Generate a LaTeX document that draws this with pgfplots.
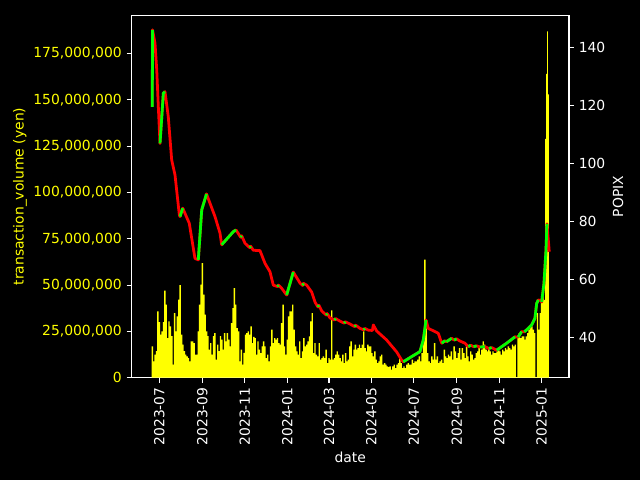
\documentclass[border=0pt]{standalone}
\usepackage{pgfplots}
\pgfplotsset{compat=1.18}
\usepackage{pgfplotstable}
\usepackage{fontspec}
\setmainfont{DejaVu Sans}
\definecolor{lime}{RGB}{0,255,0}
\definecolor{pyred}{RGB}{255,0,0}
\definecolor{pyyellow}{RGB}{255,255,0}

% transaction volume in millions of yen; s = start day of bar (days since 2023-07-01)
\pgfplotstableread{
s v
-11 16.9
-9 8.8
-7 12.4
-5 14.3
-3 35.8
-1 30.0
1 23.2
3 25.0
5 30.0
7 47.0
9 39.4
11 21.4
13 30.4
15 27.7
17 22.4
19 7.0
21 34.9
23 25.0
25 33.1
27 42.1
29 50.0
31 23.2
33 17.8
35 14.3
37 12.4
39 11.5
41 10.6
43 8.8
45 19.6
47 19.6
49 18.7
51 12.4
53 12.4
55 25.0
57 39.4
59 50.2
61 61.9
63 44.8
65 34.0
67 25.0
69 22.4
71 15.1
73 18.7
75 12.4
77 22.4
79 24.1
81 9.7
83 17.8
85 14.3
87 22.4
89 20.5
91 15.1
93 24.1
95 19.6
97 24.1
99 20.5
101 16.9
103 29.5
105 37.6
107 48.4
109 39.4
111 26.8
113 25.0
115 8.8
117 15.1
119 7.0
121 13.4
123 23.2
125 24.1
127 25.0
129 23.2
131 27.7
133 18.7
135 22.0
137 21.4
139 12.4
141 19.6
143 15.1
145 13.3
147 16.9
149 19.6
151 16.9
153 10.6
155 12.4
157 8.8
159 16.9
161 25.9
163 18.7
165 21.4
167 20.5
169 21.4
171 18.7
173 17.8
175 29.5
177 39.4
179 16.9
181 12.4
183 20.5
185 33.1
187 35.8
189 35.8
191 39.4
193 25.9
195 16.9
197 14.2
199 12.4
201 19.6
203 10.6
205 14.2
207 21.4
209 16.9
211 17.8
213 19.6
215 22.3
217 30.4
219 34.9
221 13.3
223 18.7
225 12.4
227 11.5
229 18.7
231 9.7
233 10.6
235 11.5
237 10.6
239 15.1
241 7.9
243 10.6
245 9.7
247 36.4
249 9.7
251 10.6
253 12.4
255 14.2
257 12.4
259 10.6
261 8.8
263 12.4
265 7.9
267 13.3
269 8.8
271 9.7
273 16.9
275 19.6
277 11.5
279 15.1
281 17.8
283 15.1
285 16.0
287 17.8
289 16.0
291 17.8
293 25.0
295 16.0
297 14.2
299 17.8
301 16.9
303 16.9
305 13.3
307 11.5
309 14.2
311 9.7
313 7.9
315 8.8
317 11.5
319 12.4
321 7.0
323 7.9
325 7.0
327 6.1
329 5.7
331 6.1
333 4.3
335 6.1
337 7.0
339 5.2
341 7.0
343 7.9
345 10.6
347 7.9
349 5.2
351 6.1
353 5.2
355 7.0
357 7.9
359 7.0
361 7.0
363 9.7
365 7.9
367 8.8
369 8.8
371 9.7
373 11.5
375 8.8
377 13.3
379 22.0
381 63.7
383 30.0
385 13.3
387 8.8
389 7.9
391 11.5
393 9.7
395 18.7
397 9.7
399 11.5
401 7.9
403 8.8
405 9.7
407 7.9
409 15.1
411 11.5
413 10.6
415 12.4
417 11.5
419 14.2
421 9.7
423 16.9
425 14.2
427 10.6
429 13.3
431 16.0
433 9.7
435 16.0
437 13.3
439 10.6
441 16.9
443 11.5
445 8.8
447 14.2
449 12.4
451 9.7
453 10.6
455 13.3
457 14.2
459 16.0
461 12.4
463 15.1
465 19.6
467 17.8
469 15.1
471 14.2
473 16.0
475 14.2
477 12.4
479 14.2
481 13.3
483 13.3
485 14.2
487 15.1
489 14.2
491 12.4
493 15.1
495 14.2
497 16.0
499 15.1
501 16.9
503 16.0
505 15.1
507 17.8
509 16.9
511 17.8
513 0.3
515 21.4
517 24.1
519 21.4
521 22.3
523 22.3
525 20.5
527 22.3
529 24.1
531 25.9
533 27.7
535 27.7
537 25.9
539 24.1
541 0.3
543 34.9
545 25.9
547 34.9
549 42.1
551 47.5
553 42.0
555 129.0
556.4 164.0
557.8 187.0
559 153.0
560.5 0
}\vol

% POPIX, full series (day, value)
\pgfplotstableread{
d p
-10.1 119.5
-9.8 146.0
-6.2 141.4
-3.7 132.2
-1.4 119.5
1.0 106.9
5.8 124.2
8.2 124.7
12.9 116.1
17.8 101.2
22.6 96.0
28.8 82.3
29.8 81.7
33.7 84.6
43.1 79.4
51.3 67.3
56.1 66.8
61.0 84.0
67.9 89.5
80.1 81.7
87.3 76.0
89.7 72.0
106.4 76.5
110.3 77.1
117 74.6
118.5 75.1
123.3 72.5
130 71.0
131.5 71.5
135.2 70.1
144.8 70.0
152.0 65.6
159.2 62.7
164.0 58.1
170 57.6
171.5 58.1
176.0 57.0
183.2 54.7
192.7 62.6
202.4 58.8
206 58.0
207.5 58.7
212.0 58.1
219.2 55.7
223.9 52.3
228 50.6
229.5 51.2
233.6 49.2
240 47.8
241.5 48.3
245.5 46.8
252 46.1
253.5 46.6
259.9 45.7
266 45.0
267.5 45.5
274.3 44.7
281 43.8
282.5 44.3
288.7 43.2
294 42.7
295.5 43.2
300.6 42.6
306.5 42.5
307.8 44.4
312.7 42.3
327.0 39.2
341.4 35.1
348.6 32.3
350.9 31.7
363.0 33.5
374.9 35.2
379.7 39.2
382.1 43.3
383.6 46.1
386.9 43.2
396.5 42.1
401.3 41.5
406.2 38.1
411 39.0
413 38.6
420.5 39.8
424 39.2
427.7 39.6
432 38.9
439.7 38.1
444.4 36.9
448 37.4
452 36.9
456.5 37.2
461 36.8
468.4 36.9
474 36.3
478 36.6
480.4 36.3
485.2 35.7
499.6 38.1
511.6 40.3
516 40.2
521.2 42.1
525 42.0
530.7 43.2
535.6 44.4
540.3 46.7
542.8 51.8
545.1 53.0
548.2 52.8
550.0 52.3
553.3 58.7
556.2 70.2
557.6 79.2
560.9 69.6
}\full

% rising segments of the same series
\pgfplotstableread{
d p
-10.1 119.5
-9.8 146.0
nan nan
1.0 106.9
5.8 124.2
8.2 124.7
nan nan
29.8 81.7
33.7 84.6
nan nan
56.1 66.8
61.0 84.0
67.9 89.5
nan nan
89.7 72.0
106.4 76.5
110.3 77.1
nan nan
117 74.6
118.5 75.1
nan nan
130 71.0
131.5 71.5
nan nan
170 57.6
171.5 58.1
nan nan
183.2 54.7
192.7 62.6
nan nan
206 58.0
207.5 58.7
nan nan
228 50.6
229.5 51.2
nan nan
240 47.8
241.5 48.3
nan nan
252 46.1
253.5 46.6
nan nan
266 45.0
267.5 45.5
nan nan
281 43.8
282.5 44.3
nan nan
294 42.7
295.5 43.2
nan nan
350.9 31.7
363.0 33.5
374.9 35.2
379.7 39.2
382.1 43.3
383.6 46.1
nan nan
406.2 38.1
411 39.0
nan nan
413 38.6
420.5 39.8
nan nan
424 39.2
427.7 39.6
nan nan
444.4 36.9
448 37.4
nan nan
452 36.9
456.5 37.2
nan nan
461 36.8
468.4 36.9
nan nan
474 36.3
478 36.6
nan nan
485.2 35.7
499.6 38.1
511.6 40.3
nan nan
516 40.2
521.2 42.1
nan nan
525 42.0
530.7 43.2
535.6 44.4
540.3 46.7
542.8 51.8
545.1 53.0
nan nan
550.0 52.3
553.3 58.7
556.2 70.2
557.6 79.2
}\grn

\pgfplotsset{
  twin/.style={
    at={(94.68pt,73.66pt)}, anchor=south west,
    width=315pt, height=260.8pt, scale only axis,
    xmin=-40, xmax=589.3,
    tick align=outside,
    major tick length=3.5pt,
    tick style={white, line width=0.8pt},
    axis line style={white, line width=0.8pt},
  }
}

\begin{document}
\begin{tikzpicture}
\useasboundingbox (0,0) rectangle (460.8pt,345.6pt);
\fill[black] (0,0) rectangle (460.8pt,345.6pt);
\begin{axis}[
  twin,
  ymin=0, ymax=195.6,
  xtick={0,62,123,184,244,305,366,428,489,550},
  xticklabels={2023-07,2023-09,2023-11,2024-01,2024-03,2024-05,2024-07,2024-09,2024-11,2025-01},
  xticklabel style={rotate=90, anchor=east, text=white},
  ytick={0,25,50,75,100,125,150,175},
  yticklabels={0,{25,000,000},{50,000,000},{75,000,000},{100,000,000},{125,000,000},{150,000,000},{175,000,000}},
  yticklabel style={text=pyyellow},
  xtick pos=bottom, ytick pos=left,
  x tick label as interval=false,
  xlabel={date},
  ylabel={transaction\_volume (yen)},
  every axis x label/.style={at={(axis description cs:0.5,-0.219)}, anchor=center, text=white},
  every axis y label/.style={at={(axis description cs:-0.255,0.5)}, rotate=90, anchor=center, text=pyyellow},
]
\addplot[ybar interval, fill=pyyellow, draw=none] table[x=s, y=v] {\vol};
\end{axis}
\begin{axis}[
  twin,
  ymin=26.23, ymax=150.95,
  axis x line=none,
  axis y line*=right,
  ytick={40,60,80,100,120,140},
  yticklabel style={text=white},
  /pgf/number format/assume math mode=true,
  ylabel={POPIX},
  every axis y label/.style={at={(axis description cs:1.112,0.5)}, rotate=90, anchor=center, text=white},
  unbounded coords=jump,
]
\addplot[pyred, line width=2pt, line join=round] table[x=d, y=p] {\full};
\addplot[lime, line width=2pt, line join=round] table[x=d, y=p] {\grn};
\end{axis}
\end{tikzpicture}
\end{document}
